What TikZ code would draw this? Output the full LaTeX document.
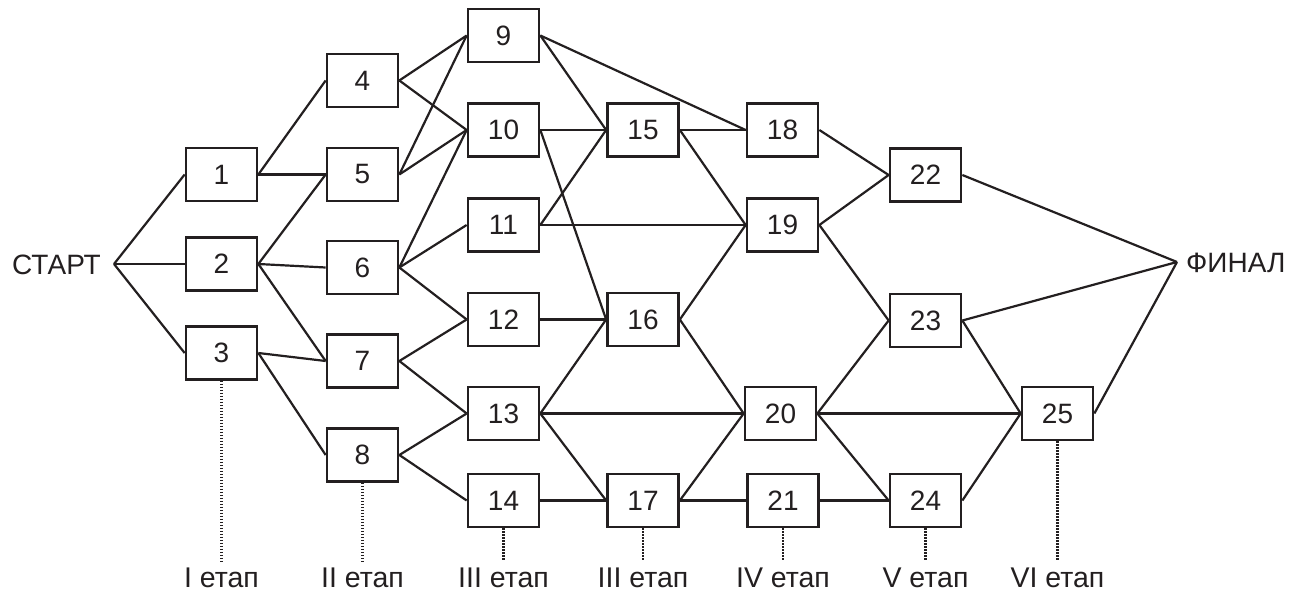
\documentclass[tikz,border=0pt]{standalone}
\usepackage{fontspec}
\setmainfont{Liberation Sans}
\definecolor{ink}{RGB}{35,31,32}
\begin{document}
\begin{tikzpicture}[x=1pt,y=-1pt,
  every node/.style={text=ink},
  stage/.style={draw=ink, line width=2.7pt, minimum width=71pt, minimum height=53pt,
    inner sep=0pt, font=\fontsize{28}{30}\selectfont},
  link/.style={draw=ink, line width=2.2pt},
  stageline/.style={draw=ink, line width=2.2pt, dash pattern=on 1.6pt off 1.4pt},
  endlabel/.style={inner sep=0pt, font=\fontsize{28}{30}\selectfont},
  stagelabel/.style={inner sep=0pt, anchor=base, font=\fontsize{28.5}{30}\selectfont}]
\useasboundingbox (0,0) rectangle (1310,591);

% stage boxes
\node[stage] (n1)  at (221.5,174.5) {1};
\node[stage] (n2)  at (221.5,264)   {2};
\node[stage] (n3)  at (221.5,353)   {3};
\node[stage] (n4)  at (362.5,80.5)  {4};
\node[stage] (n5)  at (362.5,174.5) {5};
\node[stage] (n6)  at (362.5,267.5) {6};
\node[stage] (n7)  at (362.5,361)   {7};
\node[stage] (n8)  at (362.5,455)   {8};
\node[stage] (n9)  at (503.5,35.5)  {9};
\node[stage] (n10) at (503.5,130)   {10};
\node[stage] (n11) at (503.5,225)   {11};
\node[stage] (n12) at (503.5,319.5) {12};
\node[stage] (n13) at (503.5,413.5) {13};
\node[stage] (n14) at (503.5,500.5) {14};
\node[stage] (n15) at (643,130)     {15};
\node[stage] (n16) at (643,319.5)   {16};
\node[stage] (n17) at (643,500.5)   {17};
\node[stage] (n18) at (782.5,130)   {18};
\node[stage] (n19) at (782.5,225)   {19};
\node[stage] (n20) at (780.5,413.5) {20};
\node[stage] (n21) at (783,500.5)   {21};
\node[stage] (n22) at (925.5,175)   {22};
\node[stage] (n23) at (925.5,320.5) {23};
\node[stage] (n24) at (925.5,500.5) {24};
\node[stage] (n25) at (1057.5,413.5){25};

% start and finish
\node[endlabel, anchor=base east] (startlbl) at (101,274) {СТАРТ};
\node[endlabel, anchor=base west] (finlbl) at (1186,272) {ФИНАЛ};
\coordinate (start) at (114,264);
\coordinate (finish) at (1177,262);

% connections
\draw[link] (start) -- (n1.west);
\draw[link] (start) -- (n2.west);
\draw[link] (start) -- (n3.west);
\draw[link] (n1.east) -- (n4.west);
\draw[link] (n1.east) -- (n5.west);
\draw[link] (n2.east) -- (n5.west);
\draw[link] (n2.east) -- (n6.west);
\draw[link] (n2.east) -- (n7.west);
\draw[link] (n3.east) -- (n7.west);
\draw[link] (n3.east) -- (n8.west);
\draw[link] (n4.east) -- (n9.west);
\draw[link] (n4.east) -- (n10.west);
\draw[link] (n5.east) -- (n9.west);
\draw[link] (n5.east) -- (n10.west);
\draw[link] (n6.east) -- (n10.west);
\draw[link] (n6.east) -- (n11.west);
\draw[link] (n6.east) -- (n12.west);
\draw[link] (n7.east) -- (n12.west);
\draw[link] (n7.east) -- (n13.west);
\draw[link] (n8.east) -- (n13.west);
\draw[link] (n8.east) -- (n14.west);
\draw[link] (n9.east) -- (n15.west);
\draw[link] (n9.east) -- (n18.west);
\draw[link] (n10.east) -- (n15.west);
\draw[link] (n10.east) -- (n16.west);
\draw[link] (n11.east) -- (n15.west);
\draw[link] (n11.east) -- (n19.west);
\draw[link] (n12.east) -- (n16.west);
\draw[link] (n13.east) -- (n16.west);
\draw[link] (n13.east) -- (n20.west);
\draw[link] (n13.east) -- (n17.west);
\draw[link] (n14.east) -- (n17.west);
\draw[link] (n15.east) -- (n18.west);
\draw[link] (n15.east) -- (n19.west);
\draw[link] (n16.east) -- (n19.west);
\draw[link] (n16.east) -- (n20.west);
\draw[link] (n17.east) -- (n20.west);
\draw[link] (n17.east) -- (n21.west);
\draw[link] (n18.east) -- (n22.west);
\draw[link] (n19.east) -- (n22.west);
\draw[link] (n19.east) -- (n23.west);
\draw[link] (n20.east) -- (n23.west);
\draw[link] (n20.east) -- (n25.west);
\draw[link] (n20.east) -- (n24.west);
\draw[link] (n21.east) -- (n24.west);
\draw[link] (n22.east) -- (finish);
\draw[link] (n23.east) -- (finish);
\draw[link] (n23.east) -- (n25.west);
\draw[link] (n24.east) -- (n25.west);
\draw[link] (n25.east) -- (finish);

% stage markers
\coordinate (d1) at (221.5,561);
\coordinate (d2) at (362.5,561);
\coordinate (d3) at (503.5,561);
\coordinate (d4) at (643,561);
\coordinate (d5) at (783,561);
\coordinate (d6) at (925.5,561);
\coordinate (d7) at (1057.5,561);
\draw[stageline] (n3.south)  -- (d1);
\draw[stageline] (n8.south)  -- (d2);
\draw[stageline] (n14.south) -- (d3);
\draw[stageline] (n17.south) -- (d4);
\draw[stageline] (n21.south) -- (d5);
\draw[stageline] (n24.south) -- (d6);
\draw[stageline] (n25.south) -- (d7);
\node[stagelabel] (s1) at (221.5,587.5) {I етап};
\node[stagelabel] (s2) at (362.5,587.5) {II етап};
\node[stagelabel] (s3) at (503.5,587.5) {III етап};
\node[stagelabel] (s4) at (643,587.5) {III етап};
\node[stagelabel] (s5) at (783,587.5) {IV етап};
\node[stagelabel] (s6) at (925.5,587.5) {V етап};
\node[stagelabel] (s7) at (1057.5,587.5) {VI етап};
\end{tikzpicture}
\end{document}
